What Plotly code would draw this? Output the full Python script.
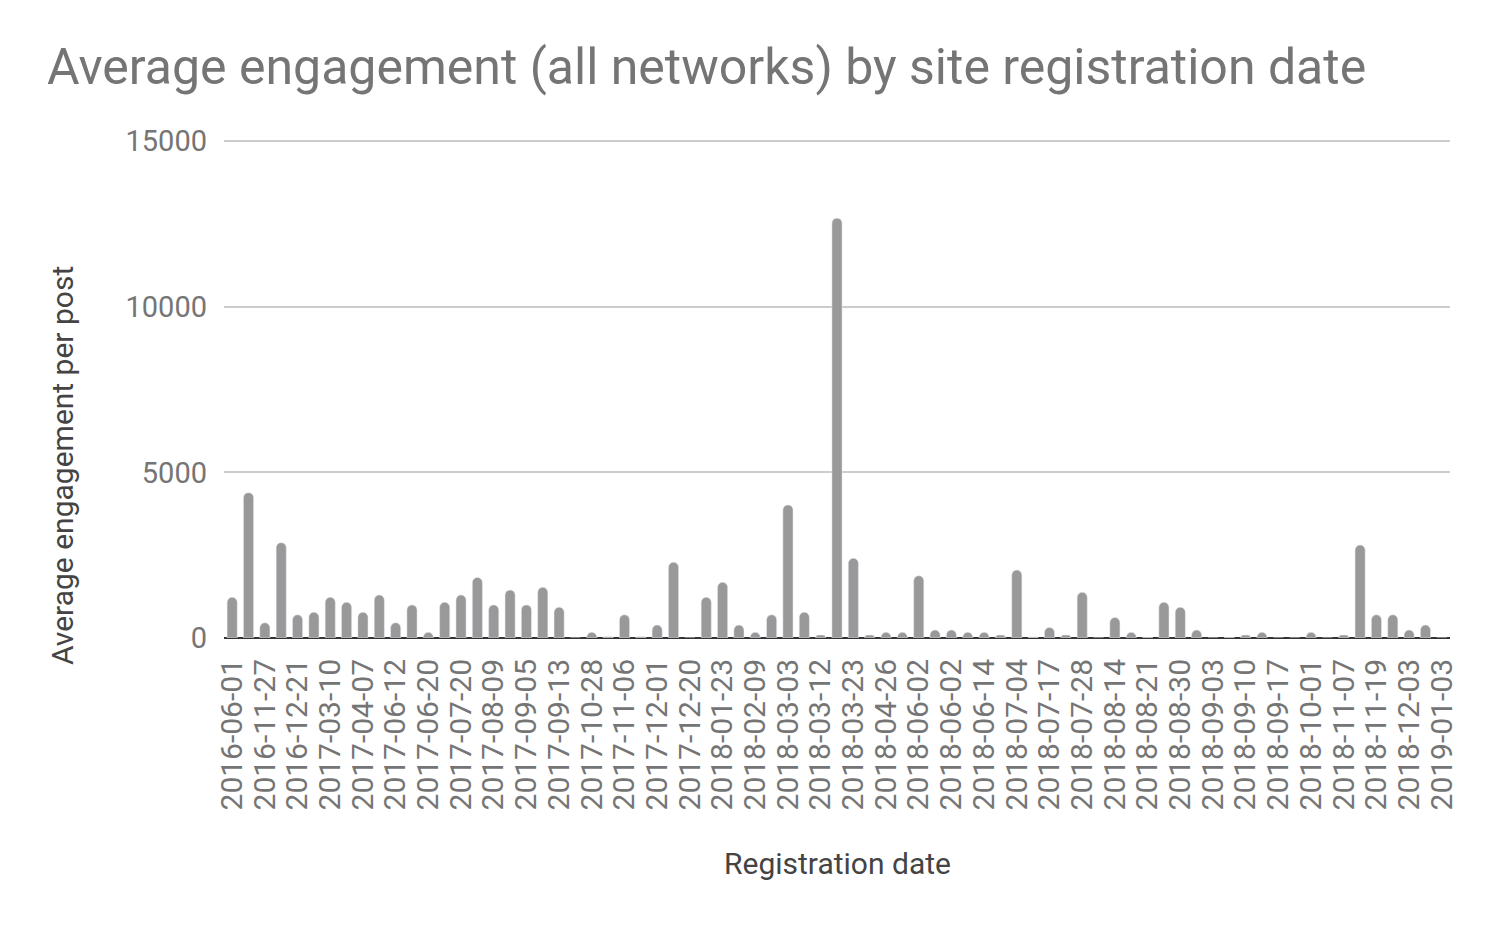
import plotly.graph_objects as go

# labels shown under every other bar (Sheets skips the odd ones)
shown_dates = [
    "2016-06-01", "2016-11-27", "2016-12-21", "2017-03-10", "2017-04-07",
    "2017-06-12", "2017-06-20", "2017-07-20", "2017-08-09", "2017-09-05",
    "2017-09-13", "2017-10-28", "2017-11-06", "2017-12-01", "2017-12-20",
    "2018-01-23", "2018-02-09", "2018-03-03", "2018-03-12", "2018-03-23",
    "2018-04-26", "2018-06-02", "2018-06-02", "2018-06-14", "2018-07-04",
    "2018-07-17", "2018-07-28", "2018-08-14", "2018-08-21", "2018-08-30",
    "2018-09-03", "2018-09-10", "2018-09-17", "2018-10-01", "2018-11-07",
    "2018-11-19", "2018-12-03", "2019-01-03",
]

engagement = [
    1230, 4390, 460, 2880, 700, 780, 1230, 1080, 780, 1300,
    460, 1000, 170, 1080, 1300, 1830, 1000, 1450, 1000, 1530,
    930, 0, 170, 40, 700, 40, 390, 2290, 0, 1230,
    1680, 390, 170, 700, 4020, 780, 90, 12680, 2410, 90,
    170, 170, 1880, 240, 240, 170, 170, 90, 2050, 30,
    320, 90, 1380, 0, 620, 170, 30, 1080, 930, 240,
    0, 20, 90, 170, 0, 0, 170, 0, 90, 2810,
    700, 700, 240, 390, 0,
]

y_ticks = [0, 5000, 10000, 15000]
y_tick_text = ["0", "5000", "10000", "15000"]

bar_pos = list(range(len(engagement)))
tick_pos = bar_pos[::2]

FONT = "Roboto"
GREY = "#757575"
DARK = "#444444"

# page body has an 8px margin, so the figure is 16px smaller than the window
W, H = 1484, 911
TOP, BOTTOM = 130, 281

fig = go.Figure()
fig.add_trace(go.Bar(
    x=bar_pos, y=engagement,
    marker=dict(color="#999999", cornerradius="50%"),
))

fig.update_layout(
    width=W, height=H,
    plot_bgcolor="white", paper_bgcolor="white",
    showlegend=False,
    bargap=0.38,
    margin=dict(l=216, r=42, t=TOP, b=BOTTOM),
    font=dict(family=FONT, color=GREY),
    title=dict(
        text="Average engagement (all networks) by site registration date",
        font=dict(family=FONT, size=50, color=GREY),
        xref="container", yref="container",
        x=39 / W, xanchor="left",
        y=1 - 58 / H, yanchor="middle",
    ),
)

fig.update_xaxes(
    type="linear",
    range=[-0.5, len(engagement) - 0.5],
    tickmode="array", tickvals=tick_pos, ticktext=shown_dates,
    tickangle=-90, tickfont=dict(size=30, color=GREY),
    ticks="", ticklabelstandoff=14,
    showgrid=False, zeroline=False, showline=False,
)
# a little headroom so the 15000 gridline is drawn
fig.update_yaxes(
    range=[0, 15100],
    tickmode="array", tickvals=y_ticks, ticktext=y_tick_text,
    tickfont=dict(size=29, color=GREY),
    ticks="", ticklabelstandoff=16,
    showgrid=True, gridcolor="#cccccc", gridwidth=2,
    zeroline=True, zerolinecolor="#333333", zerolinewidth=2,
    showline=False,
)

# axis titles placed by hand, Sheets does not centre them on the plot area
plot_h = H - TOP - BOTTOM
fig.add_annotation(
    text="Average engagement per post", textangle=-90,
    xref="paper", yref="paper", x=0, y=(630 - 458) / plot_h,
    xanchor="center", yanchor="middle", xshift=-162,
    showarrow=False, font=dict(family=FONT, size=30, color=DARK),
)
fig.add_annotation(
    text="Registration date",
    xref="paper", yref="paper", x=0.5, y=(630 - 855) / plot_h,
    xanchor="center", yanchor="middle",
    showarrow=False, font=dict(family=FONT, size=30, color=DARK),
)

fig.write_html("out.html")
